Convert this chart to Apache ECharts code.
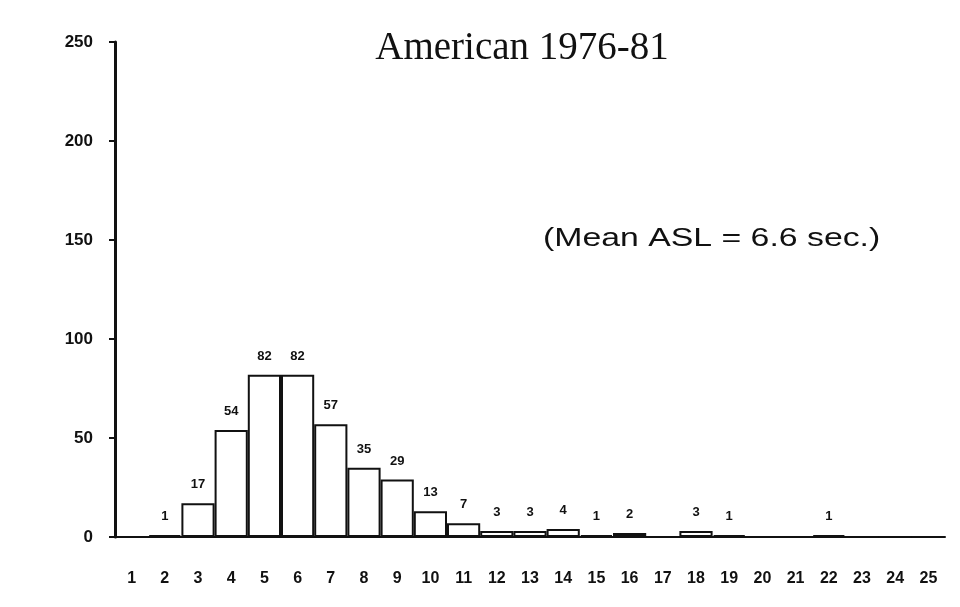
<!DOCTYPE html>
<html>
<head>
<meta charset="utf-8">
<script src="https://cdn.jsdelivr.net/npm/echarts@6/dist/echarts.min.js"></script>
<style>
html,body{margin:0;padding:0;background:#fff;}
#main{width:960px;height:607px;}
</style>
</head>
<body>
<div id="main"></div>
<script>
var categories = ['1','2','3','4','5','6','7','8','9','10','11','12','13','14','15','16','17','18','19','20','21','22','23','24','25'];
var counts = [0,1,17,54,82,82,57,35,29,13,7,3,3,4,1,2,0,3,1,0,0,1,0,0,0];
var yTicks = [0,50,100,150,200,250];

var myChart = echarts.init(document.getElementById('main'));
var option = {
    backgroundColor: '#fff',
    animation: false,
    title: {
        text: 'American 1976-81',
        left: 517,
        top: 24,
        textAlign: 'center',
        textStyle: {
            fontFamily: 'Liberation Serif',
            fontWeight: 'normal',
            fontSize: 39,
            color: '#111'
        }
    },
    graphic: [{
        type: 'text',
        left: 543,
        top: 226,
        scaleX: 1.3,
        style: {
            text: '(Mean ASL = 6.6 sec.)',
            font: '26px "Liberation Sans"',
            fill: '#111'
        }
    }],
    grid: {
        left: 115,
        right: 15,
        top: 42,
        bottom: 70
    },
    xAxis: {
        type: 'category',
        data: categories,
        axisLine: {lineStyle: {color: '#111', width: 2}},
        axisTick: {show: false},
        axisLabel: {
            color: '#111',
            fontFamily: 'Liberation Sans',
            fontWeight: 'bold',
            fontSize: 16,
            margin: 34
        }
    },
    yAxis: {
        type: 'value',
        min: 0,
        max: 250,
        interval: 50,
        axisLine: {show: true, lineStyle: {color: '#111', width: 3}},
        axisTick: {show: true, length: 6, lineStyle: {color: '#111', width: 2}},
        splitLine: {show: false},
        axisLabel: {
            color: '#111',
            fontFamily: 'Liberation Sans',
            fontWeight: 'bold',
            fontSize: 17,
            margin: 22,
            formatter: function (v) { return yTicks.indexOf(v) >= 0 ? String(v) : ''; }
        }
    },
    series: [{
        type: 'bar',
        data: counts,
        barCategoryGap: '0%',
        itemStyle: {
            color: '#fff',
            borderColor: '#111',
            borderWidth: 2
        },
        label: {
            show: true,
            position: 'top',
            distance: 12,
            color: '#111',
            fontFamily: 'Liberation Sans',
            fontWeight: 'bold',
            fontSize: 13,
            formatter: function (p) { return p.value > 0 ? String(p.value) : ''; }
        }
    }]
};
myChart.setOption(option);
</script>
</body>
</html>
